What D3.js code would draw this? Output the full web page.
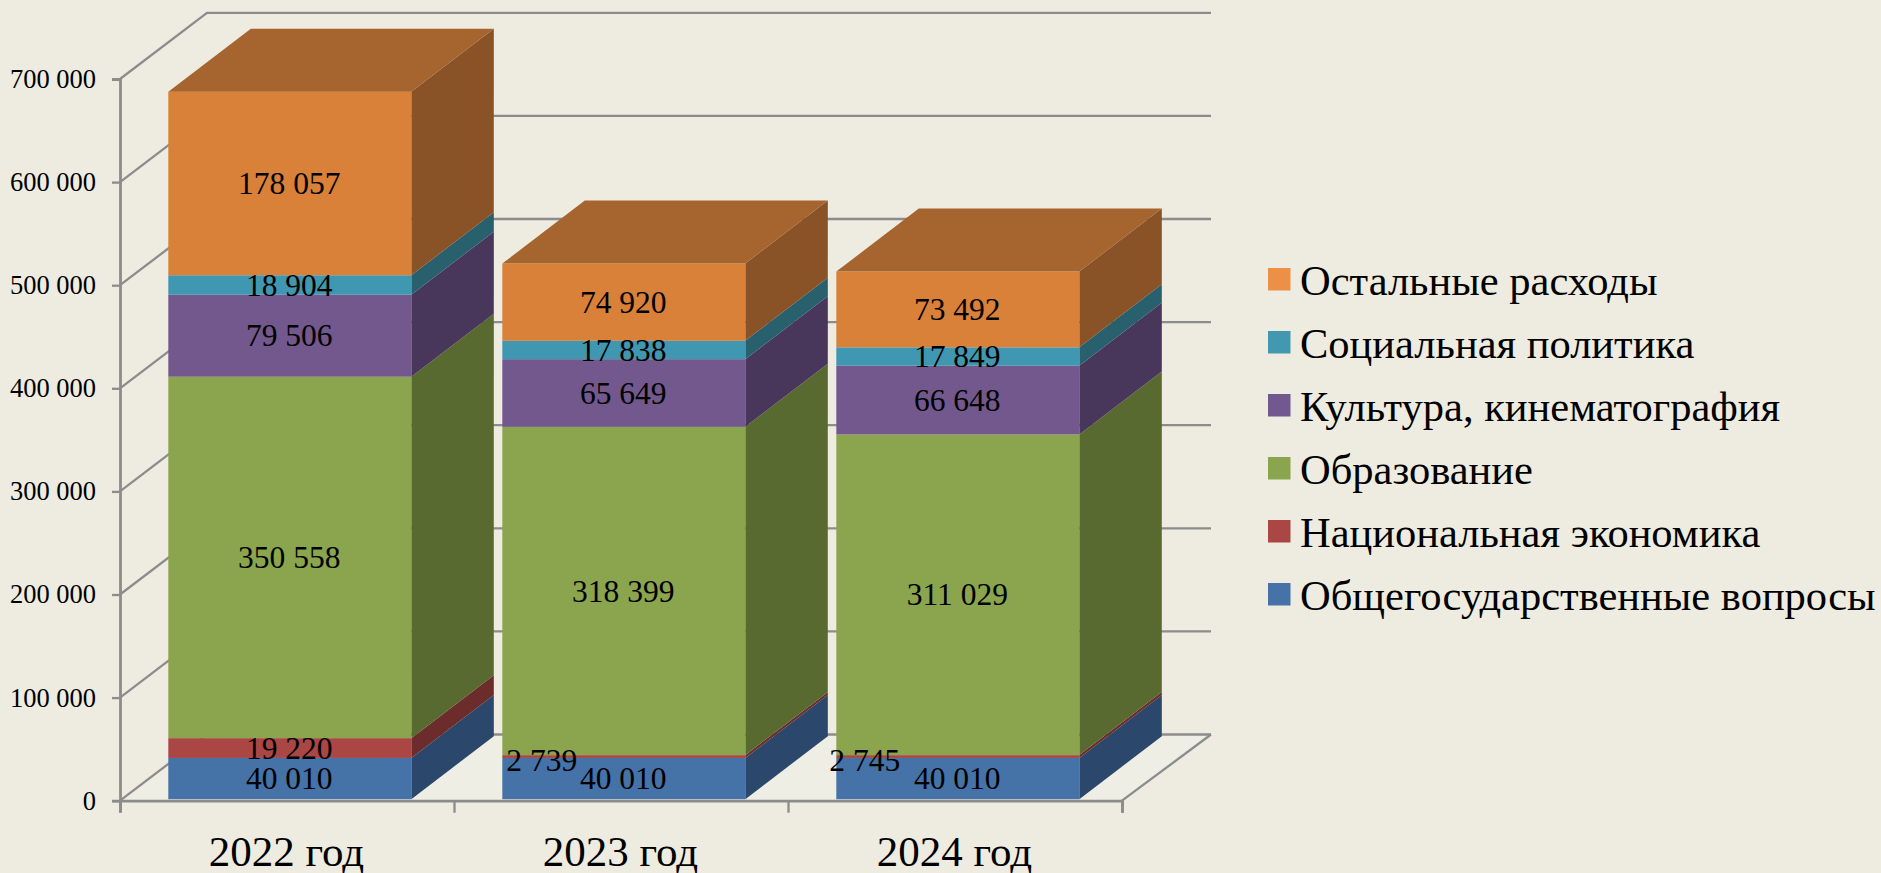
<!DOCTYPE html>
<html lang="ru">
<head>
<meta charset="utf-8">
<title>Расходы</title>
<script src="https://cdn.jsdelivr.net/npm/d3@7/dist/d3.min.js"></script>
<style>
html,body{margin:0;padding:0;background:#eeece1;overflow:hidden}
svg{display:block;font-family:"Liberation Serif",serif}
</style>
</head>
<body>
<svg id="chart" width="1881" height="873"></svg>
<script>
const categories = ["2022 год", "2023 год", "2024 год"];
const seriesNames = ["Общегосударственные вопросы", "Национальная экономика", "Образование", "Культура, кинематография", "Социальная политика", "Остальные расходы"];
const generalIssues = [40010, 40010, 40010];
const nationalEconomy = [19220, 2739, 2745];
const education = [350558, 318399, 311029];
const culture = [79506, 65649, 66648];
const socialPolicy = [18904, 17838, 17849];
const otherExpenses = [178057, 74920, 73492];
const yTicks = [0, 100000, 200000, 300000, 400000, 500000, 600000, 700000];
const frontColors = ["#4572a7", "#aa4644", "#8ba54e", "#73588e", "#4097b1", "#d98039"];
const sideColors = ["#2b486c", "#6c2c2b", "#596a30", "#48375a", "#29606d", "#8a5327"];
const legendColors = ["#4572a7", "#aa4643", "#89a54e", "#71588f", "#4198af", "#ec8f47"];
const topColor = "#a6642e";

const allSeries = [generalIssues, nationalEconomy, education, culture, socialPolicy, otherExpenses];
const rows = categories.map((c, i) => {
  const r = {category: c};
  seriesNames.forEach((n, s) => r[n] = allSeries[s][i]);
  return r;
});
const stacked = d3.stack().keys(seriesNames)(rows);

const svg = d3.select("#chart");
const lineColor = "#8c8c8c";
const fmt = v => d3.format(",")(v).replace(/,/g, " ");

const axisX0 = 120, axisX1 = 1122;
const y = d3.scaleLinear().domain([0, 700000]).range([800.7, 79]);
const wallDx = 87, wallDy = -66.2;
const barDx = 82.5, barDy = -63, barDrop = -1.5;
const xBand = d3.scaleBand().domain(categories).range([axisX0 + 2.8, axisX1 + 2.8]).paddingInner(0.2725).paddingOuter(0.13625);
const xEdge = d3.scaleLinear().domain([0, categories.length]).range([axisX0, axisX1]);
const pts = a => a.map(p => p.join(",")).join(" ");

// floor
svg.append("polygon")
  .attr("points", pts([[axisX0, y(0)], [axisX1, y(0)], [axisX1 + 89, y(0) + wallDy], [axisX0 + wallDx, y(0) + wallDy]]))
  .attr("fill", "#efeee5");

// gridlines: side wall + back wall
svg.append("g").selectAll("polyline").data(yTicks).join("polyline")
  .attr("points", d => pts([[axisX0, y(d)], [axisX0 + wallDx, y(d) + wallDy], [1211, y(d) + wallDy]]))
  .attr("fill", "none").attr("stroke", lineColor).attr("stroke-width", 2.3);

// floor front-right edge
svg.append("line")
  .attr("x1", axisX1).attr("y1", y(0)).attr("x2", 1211).attr("y2", y(0) + wallDy)
  .attr("stroke", lineColor).attr("stroke-width", 2.3);

// y axis
const yAxis = svg.append("g").attr("transform", `translate(${axisX0},0)`)
  .call(d3.axisLeft(y).tickValues(yTicks).tickFormat(fmt).tickSize(8).tickPadding(16));
yAxis.select(".domain").attr("stroke", lineColor).attr("stroke-width", 2.8);
yAxis.selectAll(".tick line").attr("stroke", lineColor).attr("stroke-width", 2.3);
yAxis.selectAll("text").attr("font-size", 26.5).attr("font-family", "Liberation Serif").attr("fill", "#000");

// x axis (ticks at category edges)
const xAxis = svg.append("g").attr("transform", `translate(0,${y(0)})`)
  .call(d3.axisBottom(xEdge).ticks(categories.length).tickFormat("").tickSize(12));
xAxis.select(".domain").attr("stroke", lineColor).attr("stroke-width", 2.8);
xAxis.selectAll(".tick line").attr("stroke", lineColor).attr("stroke-width", 2.3);

// bars
const bars = svg.append("g");
categories.forEach((cat, i) => {
  const x0 = xBand(cat), x1 = x0 + xBand.bandwidth();
  const g = bars.append("g");
  stacked.forEach((layer, s) => {
    const yb = y(layer[i][0]) + barDrop, yt = y(layer[i][1]) + barDrop;
    g.append("polygon")
      .attr("points", pts([[x1, yb], [x1 + barDx, yb + barDy], [x1 + barDx, yt + barDy], [x1, yt]]))
      .attr("fill", sideColors[s]);
    g.append("rect")
      .attr("x", x0).attr("y", yt).attr("width", x1 - x0).attr("height", yb - yt)
      .attr("fill", frontColors[s]);
  });
  const yTop = y(stacked[stacked.length - 1][i][1]) + barDrop;
  g.append("polygon")
    .attr("points", pts([[x0, yTop], [x1, yTop], [x1 + barDx, yTop + barDy], [x0 + barDx, yTop + barDy]]))
    .attr("fill", topColor);
});

// data labels; the thin national-economy labels sit out to the left of their bars
const smallLabelShift = [0, 82, 93];
const labels = svg.append("g").attr("font-size", 31.5).attr("fill", "#000").attr("text-anchor", "middle");
categories.forEach((cat, i) => {
  const cx = xBand(cat) + xBand.bandwidth() / 2;
  stacked.forEach(layer => {
    const v = layer[i][1] - layer[i][0];
    const small = v < 5000;
    const cy = (y(layer[i][0]) + y(layer[i][1])) / 2 + barDrop;
    labels.append("text")
      .attr("x", small ? cx - smallLabelShift[i] : cx - 0.5)
      .attr("y", small ? cy + 4 : cy + 0.3)
      .attr("dy", "0.33em")
      .text(fmt(v));
  });
});

// category labels
const xLabels = svg.append("g").attr("font-size", 43).attr("text-anchor", "middle").attr("fill", "#000");
xLabels.selectAll("text").data(categories).join("text")
  .attr("x", (d, i) => xEdge(i + 0.5) - 0.5)
  .attr("y", 866)
  .text(d => d);

// legend
const legendNames = seriesNames.slice().reverse();
const legendFill = legendColors.slice().reverse();
const legend = svg.append("g");
const legendY = d3.scalePoint().domain(legendNames).range([295, 610]);
legendNames.forEach((name, i) => {
  const b = legendY(name);
  legend.append("rect").attr("x", 1268).attr("y", b - 27).attr("width", 22.5).attr("height", 22.5).attr("fill", legendFill[i]);
  legend.append("text").attr("x", 1300).attr("y", b).attr("font-size", 42.5).attr("fill", "#000").text(name);
});
</script>
</body>
</html>
